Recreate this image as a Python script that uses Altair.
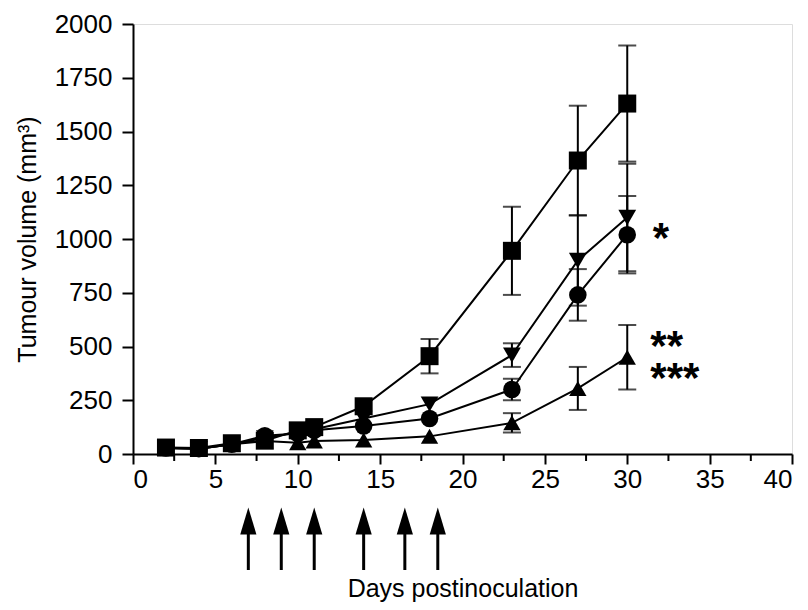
import altair as alt
import pandas as pd

# ---- data ----
days = [2, 4, 6, 8, 10, 11, 14, 18, 23, 27, 30]
series_names = ["Control", "Group B", "Group C", "Group D"]
series_shapes = ["square", "triangle-down", "circle", "triangle-up"]
series_sizes = [324, 300, 260, 300]
vol_control = [30, 28, 50, 62, 110, 125, 222, 455, 945, 1365, 1630]
vol_b = [28, 25, 45, 75, 100, 115, 165, 232, 460, 900, 1100]
vol_c = [28, 25, 45, 85, 95, 110, 130, 165, 300, 740, 1020]
vol_d = [28, 25, 45, 60, 52, 60, 65, 82, 145, 305, 450]
err_control = [0, 0, 0, 0, 0, 0, 0, 80, 205, 255, 270]
err_b = [0, 0, 0, 0, 0, 0, 0, 0, 55, 210, 250]
err_c = [0, 0, 0, 0, 0, 0, 0, 0, 50, 120, 180]
err_d = [0, 0, 0, 0, 0, 0, 0, 0, 45, 100, 150]

treatment_days = [7, 9, 11, 14, 16.5, 18.5]
minor_ticks = [2.5, 7.5, 12.5, 17.5, 22.5, 27.5, 32.5, 37.5]

# significance marks: "*" beside one curve, "**" and "***" stacked beside another
annot_text = ["*", "**\n***"]
annot_day = [31.55, 31.4]
annot_vol = [1041, 541]

# ---- build tables ----
rows = []
for name, vals, errs in zip(series_names, [vol_control, vol_b, vol_c, vol_d],
                            [err_control, err_b, err_c, err_d]):
    for d, v, e in zip(days, vals, errs):
        rows.append({"series": name, "day": d, "vol": v, "err": e,
                     "lo": v - e, "hi": v + e})
df = pd.DataFrame(rows)
df_err = df[df["err"] > 0]
df_arrow = pd.DataFrame({"day": treatment_days})
df_minor = pd.DataFrame({"day": minor_ticks})
df_annot = pd.DataFrame({"label": annot_text, "day": annot_day, "vol": annot_vol})

W, H = 659, 430
FONT = "Liberation Sans"

xscale = alt.Scale(domain=[0, 40], nice=False)
yscale = alt.Scale(domain=[0, 2000], nice=False)

x_axis = alt.Axis(values=list(range(0, 41, 5)), format="d", grid=False,
                  tickSize=10, tickWidth=2, tickColor="black",
                  domainColor="black", domainWidth=2,
                  labelFontSize=26, labelFont=FONT, labelColor="black", labelPadding=2,
                  title="Days postinoculation", titleFontSize=25, titleFont=FONT,
                  titleFontWeight="normal", titleColor="black",
                  titleX=W / 2, titleY=134, titleAlign="center", titleBaseline="middle")
y_axis = alt.Axis(values=list(range(0, 2001, 250)), format="d", grid=False,
                  tickSize=11, tickWidth=2, tickColor="black",
                  domainColor="black", domainWidth=2,
                  labelFontSize=26, labelFont=FONT, labelColor="black", labelPadding=10,
                  title="Tumour volume (mm³)", titleFontSize=25, titleFont=FONT,
                  titleFontWeight="normal", titleColor="black",
                  titleX=-106, titleY=H / 2, titleAngle=270,
                  titleAlign="center", titleBaseline="middle")

shape_scale = alt.Scale(domain=series_names, range=series_shapes)
size_scale = alt.Scale(domain=series_names, range=series_sizes)

base = alt.Chart(df)

lines = base.mark_line(color="black", strokeWidth=2).encode(
    x=alt.X("day:Q", scale=xscale, axis=x_axis),
    y=alt.Y("vol:Q", scale=yscale, axis=y_axis),
    detail="series:N",
)

err_rule = alt.Chart(df_err).mark_rule(color="black", strokeWidth=2).encode(
    x=alt.X("day:Q", scale=xscale), y=alt.Y("lo:Q", scale=yscale), y2="hi:Q")
cap_hi = alt.Chart(df_err).mark_tick(color="black", orient="horizontal",
                                     size=18, thickness=2).encode(
    x=alt.X("day:Q", scale=xscale), y=alt.Y("hi:Q", scale=yscale))
cap_lo = alt.Chart(df_err).mark_tick(color="black", orient="horizontal",
                                     size=18, thickness=2).encode(
    x=alt.X("day:Q", scale=xscale), y=alt.Y("lo:Q", scale=yscale))

points = base.mark_point(filled=True, color="black", opacity=1).encode(
    x=alt.X("day:Q", scale=xscale),
    y=alt.Y("vol:Q", scale=yscale),
    shape=alt.Shape("series:N", scale=shape_scale, legend=None),
    size=alt.Size("series:N", scale=size_scale, legend=None),
)

minor = alt.Chart(df_minor).mark_rule(color="black", strokeWidth=2).encode(
    x=alt.X("day:Q", scale=xscale), y=alt.value(H), y2=alt.value(H + 7))

shaft = alt.Chart(df_arrow).mark_rule(color="black", strokeWidth=3).encode(
    x=alt.X("day:Q", scale=xscale), y=alt.value(H + 75), y2=alt.value(H + 116))
head = alt.Chart(df_arrow).mark_point(
    shape="M0,-1L0.6,1L-0.6,1Z", filled=True, color="black", opacity=1, size=729
).encode(x=alt.X("day:Q", scale=xscale), y=alt.value(H + 67))

annot = alt.Chart(df_annot).mark_text(
    fontSize=42, fontWeight="bold", font=FONT, align="left", baseline="alphabetic",
    color="black", dy=22, lineBreak="\n", lineHeight=32
).encode(x=alt.X("day:Q", scale=xscale), y=alt.Y("vol:Q", scale=yscale),
         text="label:N")

chart = alt.layer(lines, err_rule, cap_hi, cap_lo, points, minor, shaft, head, annot).properties(
    width=W, height=H,
    autosize=alt.AutoSizeParams(type="none"),
    padding={"left": 125, "top": 16, "right": 8, "bottom": 148},
).configure_view(stroke=None).configure(background="white")

chart.save("out.html", embed_options={"renderer": "svg", "actions": False})
